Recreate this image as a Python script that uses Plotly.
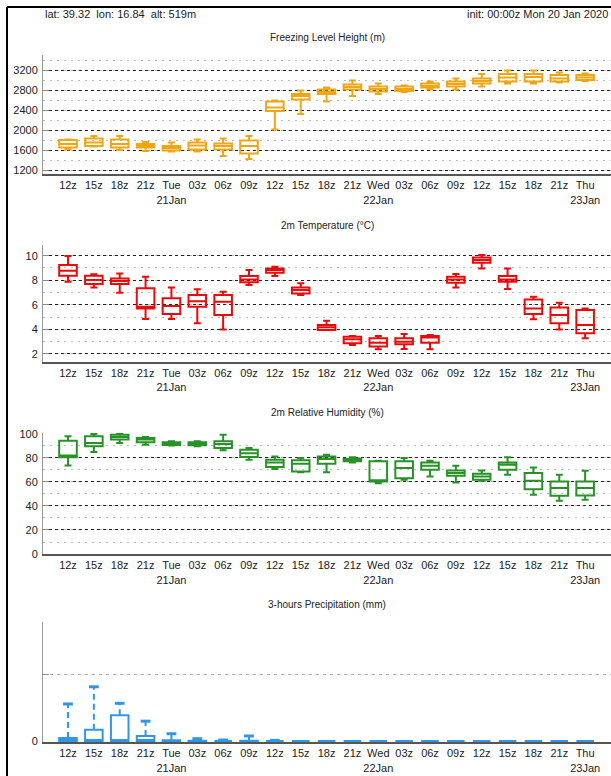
import plotly.graph_objects as go

# ---------------- data ----------------
labels = ["12z", "15z", "18z", "21z", "Tue<br>21Jan", "03z", "06z", "09z", "12z", "15z",
          "18z", "21z", "Wed<br>22Jan", "03z", "06z", "09z", "12z", "15z", "18z", "21z",
          "Thu<br>23Jan"]
pos = list(range(len(labels)))

# Freezing level height (m)
fl_low = [1610, 1670, 1600, 1580, 1570, 1570, 1480, 1420, 2010, 2320, 2570, 2680, 2720, 2760, 2810, 2810, 2870, 2930, 2930, 2950, 2980]
fl_q1 = [1650, 1680, 1650, 1650, 1590, 1610, 1610, 1530, 2380, 2610, 2720, 2810, 2770, 2780, 2850, 2870, 2930, 2970, 2970, 2970, 3000]
fl_med = [1720, 1750, 1720, 1690, 1640, 1690, 1680, 1680, 2450, 2680, 2760, 2860, 2820, 2820, 2880, 2920, 2980, 3050, 3060, 3030, 3050]
fl_q3 = [1800, 1830, 1810, 1720, 1680, 1750, 1730, 1790, 2570, 2720, 2810, 2910, 2870, 2870, 2930, 2970, 3030, 3120, 3120, 3100, 3100]
fl_high = [1810, 1880, 1880, 1760, 1750, 1810, 1830, 1880, 2590, 2790, 2850, 2990, 2930, 2890, 2970, 3030, 3120, 3190, 3190, 3150, 3130]

# 2m temperature (C)
t_low = [7.88, 7.42, 6.99, 4.85, 4.85, 4.5, 4.0, 7.61, 8.34, 6.8, 4.0, 2.73, 2.38, 2.4, 2.38, 7.42, 8.96, 7.28, 4.82, 4.0, 3.27]
t_q1 = [8.37, 7.69, 7.69, 5.7, 5.25, 5.85, 5.17, 7.83, 8.61, 6.93, 3.95, 2.87, 2.6, 2.79, 2.92, 7.8, 9.43, 7.88, 5.25, 4.49, 3.68]
t_med = [8.78, 8.02, 7.93, 5.85, 5.9, 6.3, 6.25, 8.07, 8.83, 7.2, 4.17, 3.2, 2.92, 3.0, 3.33, 8.07, 9.64, 8.07, 5.7, 5.17, 4.36]
t_q3 = [9.24, 8.37, 8.15, 7.34, 6.53, 6.8, 6.8, 8.34, 8.96, 7.42, 4.36, 3.4, 3.27, 3.27, 3.46, 8.29, 9.86, 8.34, 6.44, 5.79, 5.58]
t_high = [9.97, 8.48, 8.56, 8.29, 7.42, 7.26, 7.07, 8.83, 9.1, 7.75, 4.7, 3.46, 3.46, 3.62, 3.55, 8.5, 10.05, 8.96, 6.66, 6.17, 5.71]

# 2m relative humidity (%)
rh_low = [73.8, 85, 92.5, 91, 90.3, 89.7, 86.4, 78.6, 70.8, 68, 68, 76.3, 59, 61.8, 64.6, 59.6, 61, 66, 49.3, 44.3, 45.1]
rh_q1 = [80.5, 89.7, 95.3, 93, 90.8, 90.5, 88.3, 80.8, 72.4, 68.8, 75.2, 77.2, 60.4, 63.2, 70.2, 65.2, 61.8, 70.2, 54, 48.5, 48.7]
rh_med = [82, 92.5, 97.5, 95.3, 91.9, 91.9, 91.6, 84, 76.3, 75.2, 79.1, 78.6, 61.5, 71.6, 73.5, 67.4, 64.6, 74.4, 61, 54.9, 54.9]
rh_q3 = [94.4, 98, 99.4, 96.7, 93, 93, 93.9, 86.9, 78.6, 78, 81.3, 79.4, 77.2, 77.2, 76.3, 69.6, 66.9, 76.3, 67.4, 60.4, 60.4]
rh_high = [98, 100, 100, 97.5, 93.9, 93.9, 99.4, 88.3, 81.3, 80, 82.7, 80.5, 77.7, 80, 77.7, 73.5, 69.6, 80.5, 72.1, 66, 69.4]

# 3-hours precipitation (mm)
pr_low = [0] * 21
pr_q1 = [0] * 21
pr_med = [0] * 21
pr_q3 = [0.046, 0.17, 0.39, 0.076, 0.01, 0.005, 0, 0.005, 0, 0, 0, 0, 0, 0, 0, 0, 0, 0, 0, 0, 0]
pr_high = [0.56, 0.82, 0.57, 0.30, 0.11, 0.035, 0.015, 0.076, 0.01, 0, 0, 0, 0, 0, 0, 0, 0, 0, 0, 0, 0]

# ---------------- styling ----------------
W, H = 611, 776
FONT = "Liberation Sans, Arial, Helvetica, sans-serif"
ORANGE = "rgb(240,165,20)"
RED = "rgb(235,10,10)"
GREEN = "rgb(40,145,40)"
BLUE = "rgb(50,150,230)"

def py(p):  # pixel-from-top -> paper y
    return 1 - p / H

def px(p):
    return p / W

fig = go.Figure()

def add_box(stats, color, axis_n, whiskerwidth=0.4):
    low, q1, med, q3, high = stats
    fig.add_trace(go.Box(
        x=pos, q1=q1, median=med, q3=q3, lowerfence=low, upperfence=high,
        fillcolor="rgba(255,255,255,0)", line=dict(color=color, width=2),
        whiskerwidth=whiskerwidth, width=0.68, boxpoints=False,
        xaxis="x" if axis_n == 1 else f"x{axis_n}",
        yaxis="y" if axis_n == 1 else f"y{axis_n}",
        showlegend=False, hoverinfo="skip"))

add_box((fl_low, fl_q1, fl_med, fl_q3, fl_high), ORANGE, 1)
add_box((t_low, t_q1, t_med, t_q3, t_high), RED, 2)
add_box((rh_low, rh_q1, rh_med, rh_q3, rh_high), GREEN, 3)
add_box((pr_low, pr_q1, pr_med, pr_q3, pr_q3), BLUE, 4, whiskerwidth=0)

# dashed precipitation whiskers + caps
wx, wy, cx, cy = [], [], [], []
for i in pos:
    if pr_high[i] > pr_q3[i]:
        wx += [i, i, None]
        wy += [pr_q3[i], pr_high[i], None]
        cx.append(i)
        cy.append(pr_high[i])
fig.add_trace(go.Scatter(x=wx, y=wy, mode="lines", xaxis="x4", yaxis="y4",
                         line=dict(color=BLUE, width=2, dash="6px,4px"),
                         showlegend=False, hoverinfo="skip"))
fig.add_trace(go.Scatter(x=cx, y=cy, mode="markers", xaxis="x4", yaxis="y4",
                         marker=dict(symbol="line-ew", size=7, line=dict(color=BLUE, width=3)),
                         showlegend=False, hoverinfo="skip"))

# ---------------- axes ----------------
x_dom = [43 / W, 1]
x_rng = [-0.967, 21.0]
panels = [
    # (top px, bottom px, range, tickvals, ticktext, minor dtick)
    (55, 174, [1120, 3500], [1200, 1600, 2000, 2400, 2800, 3200], None, 200),
    (245, 361.7, [1.37, 10.87], [2, 4, 6, 8, 10], None, 1),
    (433, 554, [0, 100.8], [0, 20, 40, 60, 80, 100], None, 10),
    (622, 742, [-0.015, 1.8], [0, 1], ["0", ""], None),
]

layout = dict(width=W, height=H, margin=dict(l=0, r=0, t=0, b=0),
              paper_bgcolor="white", plot_bgcolor="white",
              font=dict(family=FONT, size=11, color="#222"))

for n, (top, bot, rng, tv, tt, mdt) in enumerate(panels, start=1):
    xk = "xaxis" if n == 1 else f"xaxis{n}"
    yk = "yaxis" if n == 1 else f"yaxis{n}"
    ya = "y" if n == 1 else f"y{n}"
    xa = "x" if n == 1 else f"x{n}"
    layout[xk] = dict(domain=x_dom, range=x_rng, anchor=ya, tickvals=pos, ticktext=labels,
                      showgrid=False, zeroline=False, showline=True, linecolor="#555",
                      linewidth=2, ticks="", automargin=False, tickangle=0,
                      tickfont=dict(size=11, color="#222"))
    ydict = dict(domain=[py(bot), py(top)], range=rng, anchor=xa, tickvals=tv,
                 showgrid=True, zeroline=False, showline=True, linecolor="#999", linewidth=1,
                 ticks="inside", ticklen=6, tickcolor="#888", automargin=False,
                 tickfont=dict(size=11, color="#222"), ticklabelstandoff=2)
    if tt is not None:
        ydict["ticktext"] = tt
    if n < 4:
        ydict.update(gridcolor="#222", griddash="3px,3px", gridwidth=1)
        ydict["minor"] = dict(dtick=mdt, showgrid=True, gridcolor="#bbb",
                              griddash="2px,5px", gridwidth=1, ticks="")
    else:
        ydict.update(gridcolor="#aaa", griddash="3px,4px", gridwidth=1)
    layout[yk] = ydict

# ---------------- annotations ----------------
ann = []
ann.append(dict(text="lat: 39.32  lon: 16.84  alt: 519m", x=px(43), y=py(14),
                xref="paper", yref="paper",
                xanchor="left", yanchor="middle", showarrow=False, font=dict(size=11, color="#222")))
ann.append(dict(text="init: 00:00z Mon 20 Jan 2020", x=px(610), y=py(14),
                xref="paper", yref="paper",
                xanchor="right", yanchor="middle", showarrow=False, font=dict(size=11, color="#222")))
titles = [("Freezing Level Height (m)", 37), ("2m Temperature (°C)", 225),
          ("2m Relative Humidity (%)", 412), ("3-hours Precipitation (mm)", 604)]
for t, yy in titles:
    ann.append(dict(text=t, x=px(327), y=py(yy), xref="paper", yref="paper",
                    xanchor="center", yanchor="middle",
                    showarrow=False, font=dict(size=10, color="#222")))
layout["annotations"] = ann

layout["shapes"] = [
    dict(type="line", xref="paper", yref="paper", x0=px(7), x1=1, y0=py(7), y1=py(7),
         line=dict(color="black", width=2)),
    dict(type="line", xref="paper", yref="paper", x0=px(7), x1=px(7), y0=py(7), y1=0,
         line=dict(color="black", width=2)),
]

fig.update_layout(**layout)
fig.write_html("out.html", config={"displayModeBar": False},
               post_script="document.body.style.margin='0';document.body.style.overflow='hidden';")
